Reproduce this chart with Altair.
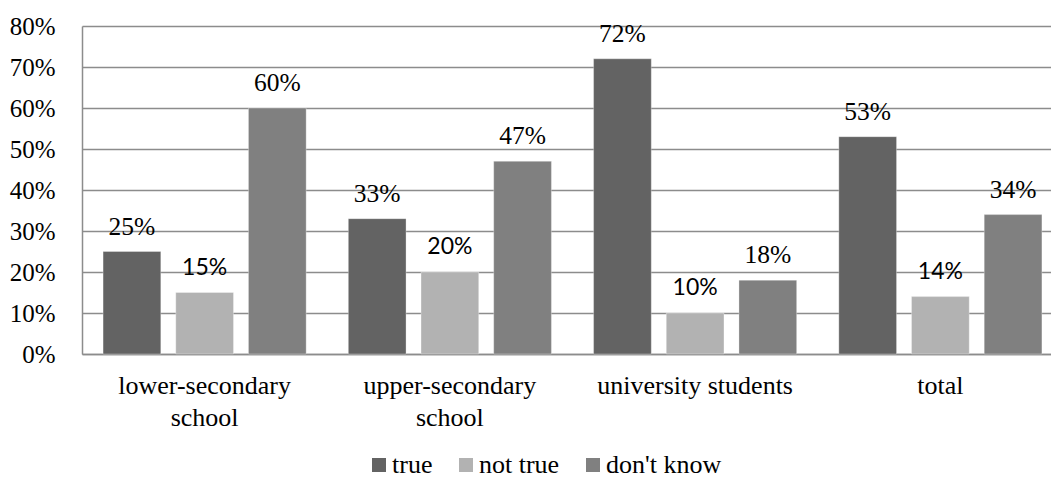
import altair as alt
import pandas as pd

# Survey answers by group (percent)
categories = ["lower-secondary|school", "upper-secondary|school", "university students", "total"]
series = ["true", "not true", "don't know"]
true_vals = [25, 33, 72, 53]
not_true_vals = [15, 20, 10, 14]
dont_know_vals = [60, 47, 18, 34]
colors = ["#636363", "#b2b2b2", "#808080"]
y_ticks = [0, 10, 20, 30, 40, 50, 60, 70, 80]

rows = []
for s, vals in zip(series, [true_vals, not_true_vals, dont_know_vals]):
    for c, v in zip(categories, vals):
        rows.append({"group": c, "answer": s, "pct": v, "label": f"{v}%"})
df = pd.DataFrame(rows)

serif = "'Times New Roman', 'Liberation Serif', serif"
sans = "Lato, 'Open Sans', sans-serif"

x_enc = alt.X(
    "group:N",
    sort=categories,
    scale=alt.Scale(paddingInner=0, paddingOuter=0, range=[0, 981]),
    axis=alt.Axis(
        title=None,
        labelAngle=0,
        labelExpr="split(datum.label, '|')",
        labelFont=serif,
        labelFontSize=26,
        labelColor="black",
        labelLineHeight=32,
        labelBaseline="alphabetic",
        labelPadding=39,
        labelLimit=0,
        ticks=False,
        tickSize=0,
        domainColor="#8c8c8c",
        domainWidth=1.5,
        grid=False,
    ),
)
xoff = alt.XOffset(
    "answer:N",
    sort=series,
    scale=alt.Scale(domain=series, paddingInner=0.206, paddingOuter=0.29),
)
y_enc = alt.Y(
    "pct:Q",
    scale=alt.Scale(domain=[0, 80], nice=False),
    axis=alt.Axis(
        title=None,
        values=y_ticks,
        labelExpr="datum.value + '%'",
        labelFont=serif,
        labelFontSize=25,
        labelColor="black",
        labelPadding=27,
        ticks=False,
        tickSize=0,
        domainColor="#8c8c8c",
        domainWidth=1.5,
        gridColor="#8c8c8c",
        gridWidth=1.5,
    ),
)

bars = alt.Chart(df).mark_bar(stroke="#ffffff", strokeOpacity=0.3, strokeWidth=1).encode(
    x=x_enc,
    xOffset=xoff,
    y=y_enc,
    color=alt.Color(
        "answer:N",
        sort=series,
        scale=alt.Scale(domain=series, range=colors),
        legend=alt.Legend(
            title=None,
            orient="none",
            direction="horizontal",
            legendX=284,
            legendY=426,
            symbolType="square",
            symbolSize=196,
            symbolStrokeWidth=0,
            labelFont=serif,
            labelFontSize=26,
            labelColor="black",
            labelOffset=0,
            columnPadding=20,
        ),
    ),
)

label_serif = alt.Chart(df).transform_filter("datum.answer != 'not true'").mark_text(
    font=serif, fontSize=25.5, color="black", baseline="middle", dy=-25
).encode(x=alt.X("group:N", sort=categories), xOffset=alt.XOffset("answer:N", sort=series), y="pct:Q", text="label:N")

label_sans = alt.Chart(df).transform_filter("datum.answer == 'not true'").mark_text(
    font=sans, fontSize=23, color="black", baseline="middle", dy=-25
).encode(x=alt.X("group:N", sort=categories), xOffset=alt.XOffset("answer:N", sort=series), y="pct:Q", text="label:N")

chart = (
    alt.layer(bars, label_serif, label_sans)
    .properties(
        width=969,
        height=328,
        autosize=alt.AutoSizeParams(type="none"),
        padding={"left": 82, "top": 26, "right": 0, "bottom": 124},
        background="white",
    )
    .configure_view(stroke=None)
)

chart.save("out.html", embed_options={"renderer": "svg", "actions": False})
